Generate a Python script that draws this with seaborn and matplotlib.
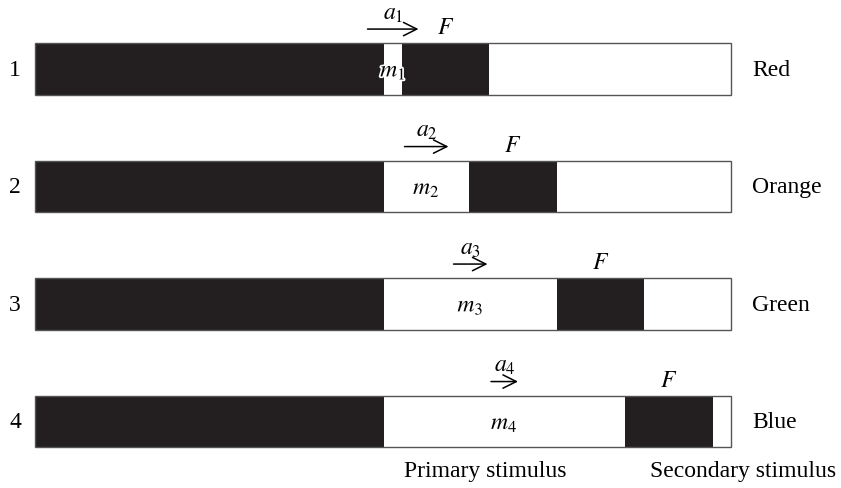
import matplotlib.pyplot as plt
import matplotlib.patheffects as pe
import seaborn as sns
import numpy as np

sns.set_style("white")
plt.rcParams["font.family"] = ["Liberation Serif", "DejaVu Serif"]
plt.rcParams["mathtext.fontset"] = "stix"
plt.rcParams["text.color"] = "black"

# data (arbitrary time units)
trials = ["1", "2", "3", "4"]
colours = ["Red", "Orange", "Green", "Blue"]
onset = 349                    # dark period before the primary stimulus
m_len = [18, 85, 173, 241]     # primary stimulus m_i
f_len = [87, 88, 87, 88]       # secondary stimulus F
total = 696
a_len = [51, 44, 34, 27]       # length of the a_i arrows

dark = "#231f20"

m_end = onset + np.array(m_len)
f_end = m_end + np.array(f_len)

fig = plt.figure(figsize=(8.41, 4.89), dpi=100)
ax = fig.add_axes([0, 0, 1, 1])

w = 0.44
# paint from the longest segment down, outline last
sns.barplot(x=[total] * 4, y=trials, orient="h", color="white", saturation=1,
            linewidth=0, width=w, ax=ax)
sns.barplot(x=f_end, y=trials, orient="h", color=dark, saturation=1,
            linewidth=0, width=w, ax=ax)
sns.barplot(x=m_end, y=trials, orient="h", color="white", saturation=1,
            linewidth=0, width=w, ax=ax)
sns.barplot(x=[onset] * 4, y=trials, orient="h", color=dark, saturation=1,
            linewidth=0, width=w, ax=ax)
sns.barplot(x=[total] * 4, y=trials, orient="h", color="#555555", saturation=1,
            fill=False, linewidth=1.0, width=w, ax=ax)

fs = 17
glow = [pe.withStroke(linewidth=2.5, foreground="white")]
for i in range(4):
    mc = onset + m_len[i] / 2
    fc = m_end[i] + f_len[i] / 2
    ax.text(-20, i, trials[i], ha="center", va="center", fontsize=fs)
    ax.text(total + 21, i, colours[i], ha="left", va="center", fontsize=fs)
    ax.text(mc, i + 0.02, "$m_{%d}$" % (i + 1), ha="center", va="center",
            fontsize=fs, path_effects=glow)
    ax.text(fc, i - 0.35, "$F$", ha="center", va="center", fontsize=fs)
    ax.annotate("", xy=(mc + a_len[i] / 2, i - 0.34),
                xytext=(mc - a_len[i] / 2, i - 0.34),
                arrowprops=dict(arrowstyle="->", color="black", lw=1.1,
                                mutation_scale=24, shrinkA=0, shrinkB=0))
    ax.text(mc, i - 0.475, "$a_{%d}$" % (i + 1), ha="center", va="center",
            fontsize=fs)

ax.text(450, 3.42, "Primary stimulus", ha="center", va="center", fontsize=fs)
ax.text(708, 3.42, "Secondary stimulus", ha="center", va="center", fontsize=fs)

ax.set_xlim(-35, 806)
ax.set_ylim(3.566, -0.596)
ax.axis("off")

fig.savefig("out.png", dpi=100)
